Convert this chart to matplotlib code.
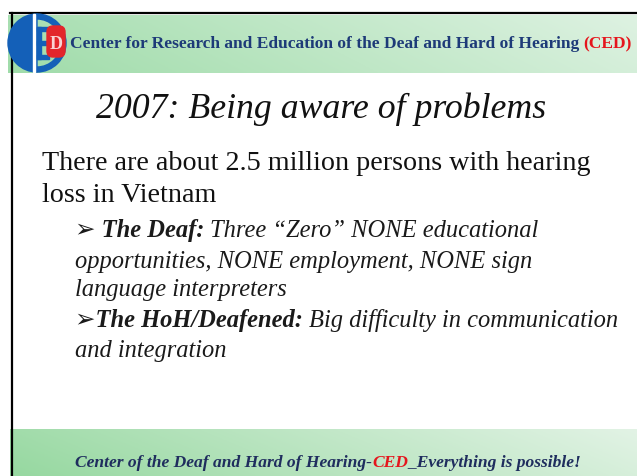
import numpy as np
import matplotlib.pyplot as plt
from matplotlib.patches import Wedge, FancyBboxPatch, Rectangle

# Slide texts
header_main = "Center for Research and Education of the Deaf and Hard of Hearing"
header_tag = "(CED)"
title = "2007: Being aware of problems"
body_lines = ["There are about 2.5 million persons with hearing", "loss in Vietnam"]
# bullet lines: list of (text, bold) runs
bullet_lines = [
    [("\u27a2 The Deaf:", True), (" Three \u201cZero\u201d NONE educational", False)],
    [("opportunities, NONE employment, NONE sign", False)],
    [("language interpreters", False)],
    [("\u27a2The HoH/Deafened:", True), (" Big difficulty in communication", False)],
    [("and integration", False)],
]
footer_parts = ["Center of the Deaf and Hard of Hearing-", "CED", "_Everything is possible!"]

NAVY = "#1d3a78"
RED = "#e5161d"
BLUE = "#1460b8"
SERIF = ["Liberation Serif", "DejaVu Sans"]

W, H = 637, 477
fig = plt.figure(figsize=(W / 100, H / 100), dpi=100)
ax = fig.add_axes([0, 0, 1, 1])
ax.set_xlim(0, W)
ax.set_ylim(H, 0)
ax.axis("off")
fig.patch.set_facecolor("white")
renderer = fig.canvas.get_renderer()


def gradient(x0, x1, y0, y1, c_left, c_right):
    gx = np.linspace(0, 1, 200)[None, :]
    gy = np.linspace(0, 1, 30)[:, None]
    t = np.clip(0.85 * gx + 0.15 * (1 - gy), 0, 1)
    a = np.array(c_left) / 255
    b = np.array(c_right) / 255
    img = a[None, None, :] * (1 - t[..., None]) + b[None, None, :] * t[..., None]
    ax.imshow(img, extent=(x0, x1, y1, y0), aspect="auto", zorder=1)


# header and footer bands
gradient(8, W, 16, 74, (160, 220, 170), (222, 242, 226))
gradient(10, W, 430, H, (150, 216, 160), (226, 243, 229))

# border lines
ax.plot([10, W], [14, 14], color="black", lw=1.6, zorder=3)
ax.plot([11.5, 11.5], [14, H], color="black", lw=1.6, zorder=3)
ax.set_xlim(0, W)
ax.set_ylim(H, 0)

# logo: solid left half, ring on the right, E bars and red D block
cx, cy, r = 37, 44, 29
ax.add_patch(Wedge((cx, cy), r, 90, 270, color=BLUE, zorder=4))
ax.add_patch(Wedge((cx, cy), r, -90, 90, width=5, color=BLUE, zorder=4))
ax.add_patch(Rectangle((cx - 4, cy - r), 2, 2 * r, color="white", zorder=5))
ax.add_patch(Rectangle((cx, cy - 16), 4, 32, color=BLUE, zorder=5))
for yy in (cy - 14, cy, cy + 14):
    ax.add_patch(Rectangle((cx, yy - 2), 12, 4, color=BLUE, zorder=5))
ax.add_patch(FancyBboxPatch((47, 27), 18, 31, boxstyle="round,pad=0,rounding_size=6",
                            color="#e3262b", zorder=6))
ax.text(56, 49, "D", color="white", fontsize=13, fontweight="bold", family=SERIF,
        ha="center", va="baseline", zorder=7, alpha=0.8)


def width_of(txt, **kw):
    t = ax.text(0, 0, txt, **kw)
    w = t.get_window_extent(renderer).width
    t.remove()
    return w


def draw_runs(x, y, runs, size):
    # runs: list of (text, kwargs); returns end x
    for txt, kw in runs:
        kw = dict(kw)
        kw.setdefault("family", SERIF)
        lead = len(txt) - len(txt.lstrip(" "))
        if lead:
            sp = width_of("x x", fontsize=size, **kw) - width_of("xx", fontsize=size, **kw)
            x += sp * lead
        t = ax.text(x, y, txt.lstrip(" "), fontsize=size, va="baseline", ha="left", zorder=8, **kw)
        x += t.get_window_extent(renderer).width
    return x


def fit(runs, target, size0=20):
    xs = draw_runs(0, -100, runs, size0)
    for t in list(ax.texts):
        if t.get_position()[1] == -100:
            t.remove()
    return size0 * target / xs


# header text
hruns = [(header_main, dict(color=NAVY, fontweight="bold")),
         (" " + header_tag, dict(color=RED, fontweight="bold"))]
hs = fit(hruns, 633 - 70)
draw_runs(70, 48, hruns, hs)

# title
truns = [(title, dict(color="#111111", style="italic"))]
ts = fit(truns, 547 - 96)
draw_runs(96, 118, truns, ts)

# body
bs = fit([(body_lines[0], dict(color="#111111"))], 590 - 42)
for line, y in zip(body_lines, [170, 202]):
    draw_runs(42, y, [(line, dict(color="#111111"))], bs)

# bullets
def bruns(line):
    return [(txt, dict(color="#1a1a1a", style="italic", fontweight="bold" if b else "normal"))
            for txt, b in line]

us = fit(bruns(bullet_lines[3]), 620 - 75)
for line, y in zip(bullet_lines, [237, 268, 296, 327, 357]):
    draw_runs(75, y, bruns(line), us)

# footer
fkw = dict(style="italic", fontweight="bold")
fruns = [(footer_parts[0], dict(color="#1f2d5e", **fkw)),
         (footer_parts[1], dict(color=RED, **fkw)),
         (footer_parts[2], dict(color="#1f2d5e", **fkw))]
fs = fit(fruns, 580 - 75)
draw_runs(75, 467, fruns, fs)

fig.savefig("out.png", dpi=100)
